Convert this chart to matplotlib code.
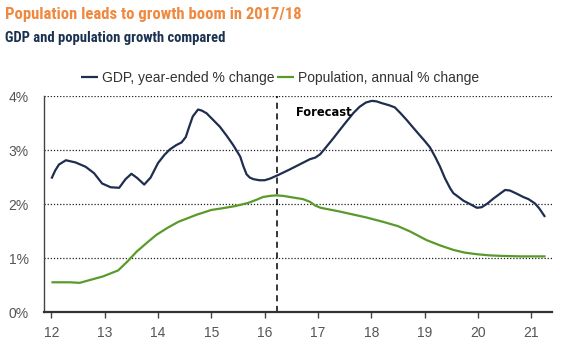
import matplotlib
matplotlib.use("Agg")
import matplotlib.pyplot as plt
from matplotlib import font_manager
from matplotlib.font_manager import FontProperties

gdp_x = [12.0, 12.07, 12.14, 12.27, 12.45, 12.64, 12.8, 12.95, 13.11, 13.27, 13.39, 13.5, 13.61,
         13.74, 13.86, 14.0, 14.12, 14.22, 14.34, 14.44, 14.52, 14.58, 14.65, 14.75, 14.82, 14.91,
         15.03, 15.16, 15.29, 15.41, 15.54, 15.6, 15.66, 15.72, 15.79, 15.9, 16.0, 16.1, 16.26,
         16.47, 16.67, 16.85, 16.95, 17.04, 17.15, 17.29, 17.48, 17.66, 17.78, 17.9, 18.01, 18.1,
         18.19, 18.33, 18.44, 18.55, 18.66, 18.85, 19.0, 19.1, 19.2, 19.29, 19.38, 19.48, 19.54,
         19.65, 19.73, 19.85, 19.98, 20.07, 20.18, 20.29, 20.4, 20.51, 20.6, 20.73, 20.85, 20.95,
         21.07, 21.15, 21.26]
gdp_y = [2.47, 2.62, 2.73, 2.81, 2.77, 2.69, 2.57, 2.38, 2.31, 2.30, 2.46, 2.56, 2.48,
         2.36, 2.49, 2.76, 2.91, 3.01, 3.09, 3.14, 3.24, 3.42, 3.62, 3.75, 3.73, 3.68,
         3.56, 3.43, 3.26, 3.09, 2.88, 2.70, 2.55, 2.49, 2.46, 2.44, 2.44, 2.47, 2.54,
         2.64, 2.74, 2.83, 2.86, 2.92, 3.05, 3.22, 3.46, 3.68, 3.80, 3.88, 3.91, 3.90,
         3.87, 3.83, 3.79, 3.68, 3.56, 3.34, 3.17, 3.05, 2.87, 2.69, 2.48, 2.29, 2.20,
         2.12, 2.06, 2.00, 1.93, 1.94, 2.01, 2.10, 2.18, 2.26, 2.25, 2.19, 2.13, 2.09,
         2.01, 1.92, 1.76]

pop_x = [12.0, 12.35, 12.53, 12.75, 12.97, 13.25, 13.42, 13.6, 13.8, 13.97, 14.18, 14.38,
         14.72, 15.0, 15.2, 15.44, 15.69, 15.85, 15.97, 16.1, 16.22, 16.35, 16.47, 16.72,
         16.85, 16.95, 17.05, 17.41, 17.91, 18.22, 18.5, 18.73, 19.04, 19.3, 19.54, 19.75,
         19.98, 20.2, 20.41, 20.8, 21.27]
pop_y = [0.55, 0.55, 0.54, 0.60, 0.66, 0.77, 0.93, 1.12, 1.29, 1.43, 1.56, 1.67,
         1.80, 1.89, 1.92, 1.96, 2.02, 2.08, 2.13, 2.15, 2.16, 2.15, 2.13, 2.09,
         2.04, 1.97, 1.93, 1.86, 1.75, 1.67, 1.59, 1.49, 1.33, 1.23, 1.15, 1.10,
         1.07, 1.05, 1.04, 1.03, 1.03]

x_ticks = [12, 13, 14, 15, 16, 17, 18, 19, 20, 21]
y_ticks = [0, 1, 2, 3, 4]
forecast_x = 16.23

title = "Population leads to growth boom in 2017/18"
subtitle = "GDP and population growth compared"

plt.rcParams['font.family'] = ['Liberation Sans', 'DejaVu Sans']


def pick_condensed_bold():
    cands = []
    for f in font_manager.fontManager.ttflist:
        if str(f.style).lower() != 'normal':
            continue
        if 'italic' in f.fname.lower() or 'oblique' in f.fname.lower():
            continue
        st = f.stretch
        cond = False
        if isinstance(st, str):
            cond = 'condensed' in st.lower() or 'narrow' in st.lower()
        else:
            try:
                cond = int(st) < 100
            except Exception:
                cond = False
        if 'condensed' in f.name.lower() or 'narrow' in f.name.lower():
            cond = True
        w = f.weight
        try:
            w = int(w)
        except Exception:
            w = 700 if 'bold' in str(w).lower() else 400
        if cond and 600 <= w <= 800:
            cands.append(f)
    pref = ['Roboto', 'Open Sans', 'Noto Sans', 'Liberation Sans', 'DejaVu Sans']
    for p in pref:
        for f in cands:
            if f.name.startswith(p):
                return FontProperties(fname=f.fname)
    if cands:
        return FontProperties(fname=cands[0].fname)
    return FontProperties(family='Lato', weight='bold')


fig = plt.figure(figsize=(5.67, 3.57), dpi=100)
ax = fig.add_axes([44/567, 1 - 312/357, (552-44)/567, (312-96)/357])

navy = "#1f2d4f"
green = "#5a9a2a"

ax.plot(gdp_x, gdp_y, color=navy, lw=1.6, label="GDP, year-ended % change",
        solid_capstyle='butt', solid_joinstyle='round')
ax.plot(pop_x, pop_y, color=green, lw=1.6, label="Population, annual % change",
        solid_capstyle='butt', solid_joinstyle='round')

ax.set_xlim(11.86, 21.39)
ax.set_ylim(0, 4)
ax.set_xticks(x_ticks)
ax.set_xticklabels([str(t) for t in x_ticks])
ax.set_yticks(y_ticks)
ax.set_yticklabels([f"{t}%" for t in y_ticks])

for v in y_ticks[1:]:
    ax.axhline(v, color="#222222", lw=0.9, ls=(0, (1, 1.5)), zorder=0)

ax.axvline(forecast_x, color="black", lw=1.1, ls=(0, (4, 3)), zorder=1)
ax.text(16.59, 3.70, "Forecast", fontsize=8.3, fontweight='bold', family=['DejaVu Sans'],
        va='center', ha='left', color='black')

for s in ['top', 'right']:
    ax.spines[s].set_visible(False)
ax.spines['left'].set_color('#444444')
ax.spines['left'].set_linewidth(1.0)
ax.spines['bottom'].set_color('#333333')
ax.spines['bottom'].set_linewidth(1.6)
ax.tick_params(axis='y', length=0, pad=11, labelsize=10, labelcolor='#555555')
ax.tick_params(axis='x', length=4, width=1, color='#444444', pad=6, labelsize=10, labelcolor='#555555')

leg = ax.legend(loc='lower center', bbox_to_anchor=(0.465, 1.05), ncol=2, frameon=False,
                fontsize=10, handlelength=1.2, handletextpad=0.35, columnspacing=0.15,
                borderaxespad=0, borderpad=0)
for t in leg.get_texts():
    t.set_color('#333333')

fp = pick_condensed_bold()
t1 = fig.text(5/567, 1 - 14/357, title, fontproperties=fp, color="#f0883e",
              va='center', ha='left')
t2 = fig.text(5/567, 1 - 38/357, subtitle, fontproperties=fp.copy(), color="#1b3150",
              va='center', ha='left')
t1.set_fontsize(14)
t2.set_fontsize(11)

# fit title widths to the reference layout
fig.canvas.draw()
r = fig.canvas.get_renderer()
for t, target, maxsize in [(t1, 296, 15.0), (t2, 220, 12.0)]:
    w = t.get_window_extent(r).width
    t.set_fontsize(min(maxsize, t.get_fontsize() * target / w))

fig.savefig("out.png", dpi=100)
